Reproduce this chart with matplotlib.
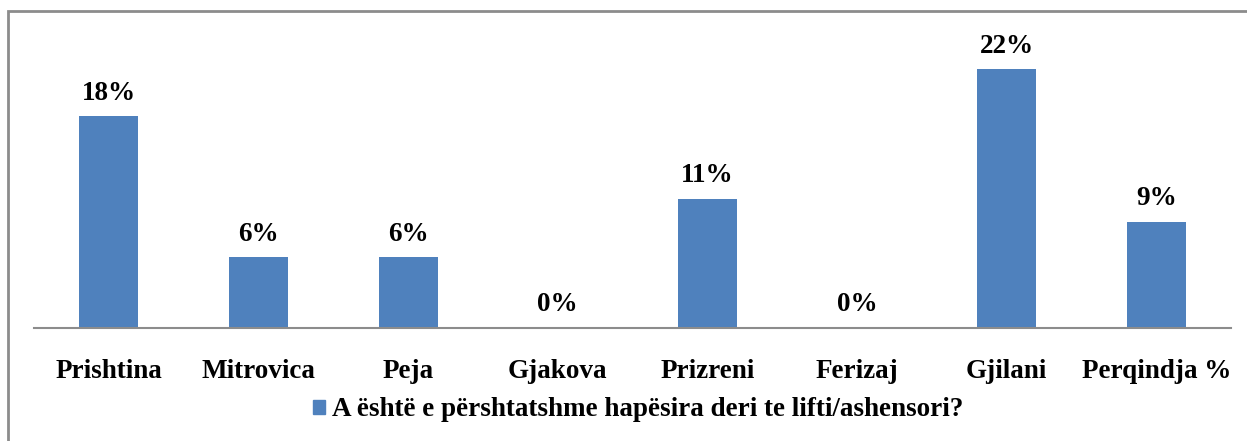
import matplotlib
matplotlib.use('Agg')
import matplotlib.pyplot as plt
from matplotlib.patches import Rectangle, Patch

# survey shares per city (percent)
cities = ['Prishtina', 'Mitrovica', 'Peja', 'Gjakova', 'Prizreni',
          'Ferizaj', 'Gjilani', 'Perqindja %']
values = [18, 6, 6, 0, 11, 0, 22, 9]
series_name = 'A është e përshtatshme hapësira deri te lifti/ashensori?'

plt.rcParams['font.family'] = ['Liberation Serif', 'DejaVu Serif']
plt.rcParams['font.weight'] = 'bold'

W, H = 1247, 441
fig = plt.figure(figsize=(W / 100, H / 100), dpi=100)
ax = fig.add_axes([34 / W, (H - 328) / H, (1231 - 34) / W, (328 - 34) / H])

x = range(len(cities))
bars = ax.bar(x, values, width=0.395, color='#4F81BD')
for xi, v in zip(x, values):
    ax.annotate('%d%%' % v, (xi, v), xytext=(0, 12), textcoords='offset points',
                ha='center', va='baseline', fontsize=19.5, fontweight='bold')

ax.set_xlim(-0.5, len(cities) - 0.5)
ax.set_ylim(0, 25)
ax.set_xticks(list(x))
ax.set_xticklabels(cities, fontsize=19.5, fontweight='bold')
ax.tick_params(axis='x', length=0, pad=22)
ax.set_yticks([])
for s in ['top', 'left', 'right']:
    ax.spines[s].set_visible(False)
ax.spines['bottom'].set_color('#8c8c8c')
ax.spines['bottom'].set_linewidth(1.5)

ax.legend([Patch(color='#4F81BD')], [series_name], loc='center',
          bbox_to_anchor=(638 / W, (H - 410) / H), bbox_transform=fig.transFigure,
          frameon=False, handlelength=0.45, handleheight=0.45, handletextpad=0.25,
          prop={'size': 19.5, 'weight': 'bold'})

# outer chart border
fig.patches.append(Rectangle((8 / W, -0.1), 1.2, (H - 11) / H + 0.1,
                             transform=fig.transFigure, fill=False,
                             edgecolor='#8c8c8c', linewidth=2))

fig.savefig('out.png', dpi=100)
